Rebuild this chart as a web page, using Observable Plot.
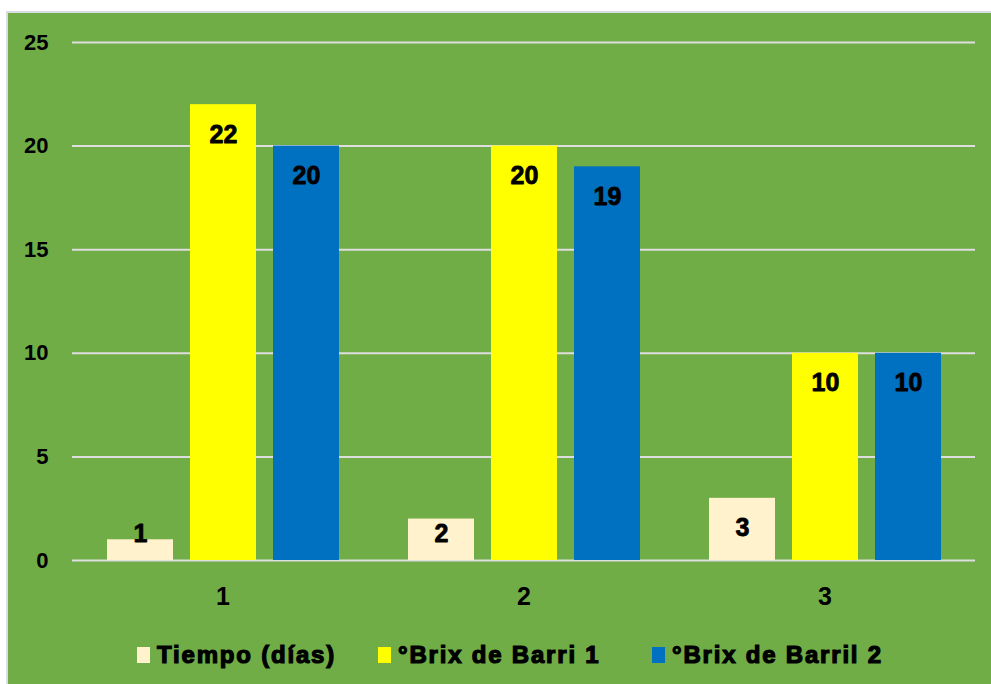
<!DOCTYPE html>
<html>
<head>
<meta charset="utf-8">
<script src="https://cdn.jsdelivr.net/npm/d3@7"></script>
<script src="https://cdn.jsdelivr.net/npm/@observablehq/plot@0.6"></script>
<style>
  html, body { margin: 0; padding: 0; background: #ffffff; }
  body { width: 991px; height: 684px; position: relative; overflow: hidden; }
  #frame {
    position: absolute; left: 6px; top: 11px; width: 985px; height: 673px;
    border-left: 2px solid #d9dce3; border-top: 2px solid #d9dce3;
    background: #70AD47; box-sizing: border-box;
  }
  #legend { position: absolute; left: 0; top: 612px; width: 983px; height: 60px; }
  .item { position: absolute; top: 0; height: 60px; display: flex; align-items: center; gap: 7px;
    font-family: "Liberation Sans", Arial, sans-serif; font-weight: bold; font-size: 24px;
    letter-spacing: 1.8px; -webkit-text-stroke: 1.2px #000; color: #000; }
  .sw { width: 13px; height: 16px; display: inline-block; -webkit-text-stroke: 0; }
</style>
</head>
<body>
<div id="frame">
  <div id="chart"></div>
  <div id="legend"></div>
</div>
<script>
const groups = ["1", "2", "3"];
const series = ["Tiempo (días)", "°Brix de Barri 1", "°Brix de Barril 2"];
const tiempo = [1, 2, 3];
const brix1 = [22, 20, 10];
const brix2 = [20, 19, 10];
const colors = ["#FFF2CC", "#FFFF00", "#0070C0"];
const yTicks = [0, 5, 10, 15, 20, 25];

const seriesValues = [tiempo, brix1, brix2];
const rows = groups.flatMap((g, i) => series.map((s, j) => ({group: g, series: s, value: seriesValues[j][i]})));

const plot = Plot.plot({
  width: 983,
  height: 610,
  marginLeft: 64,
  marginRight: 16,
  marginTop: 29,
  marginBottom: 63,
  style: {background: "transparent", fontFamily: "Liberation Sans, Arial, sans-serif", color: "#000"},
  fx: {domain: groups, padding: 0, label: null},
  x: {domain: series, paddingInner: 0.21, paddingOuter: 0.4, axis: null},
  y: {domain: [0, 25], axis: null},
  color: {domain: series, range: colors},
  marks: [
    Plot.ruleY(yTicks, {stroke: "#dedede", strokeWidth: 2}),
    Plot.barY(rows, {fx: "group", x: "series", y: "value", fill: "series"}),
    Plot.text(rows, {fx: "group", x: "series", y: d => Math.max(d.value - 1.45, 1.3), text: d => String(d.value),
      fontSize: 25, fontWeight: "bold", fill: "#000", stroke: "#000", strokeWidth: 0.8}),
    Plot.axisY(yTicks, {tickSize: 0, tickPadding: 24, fontSize: 22, fontWeight: "bold", label: null, fill: "#000"}),
    Plot.axisFx({anchor: "bottom", tickSize: 0, tickPadding: 27, fontSize: 25, fontWeight: "bold", label: null, fill: "#000", stroke: "#000", strokeWidth: 0.6})
  ]
});
document.getElementById("chart").appendChild(plot);

const legendLefts = [129, 370, 644];
const legend = document.getElementById("legend");
series.forEach((s, i) => {
  const item = document.createElement("div");
  item.className = "item";
  item.style.left = legendLefts[i] + "px";
  const sw = document.createElement("span");
  sw.className = "sw";
  sw.style.background = colors[i];
  const label = document.createElement("span");
  label.textContent = s;
  item.appendChild(sw);
  item.appendChild(label);
  legend.appendChild(item);
});
</script>
</body>
</html>
